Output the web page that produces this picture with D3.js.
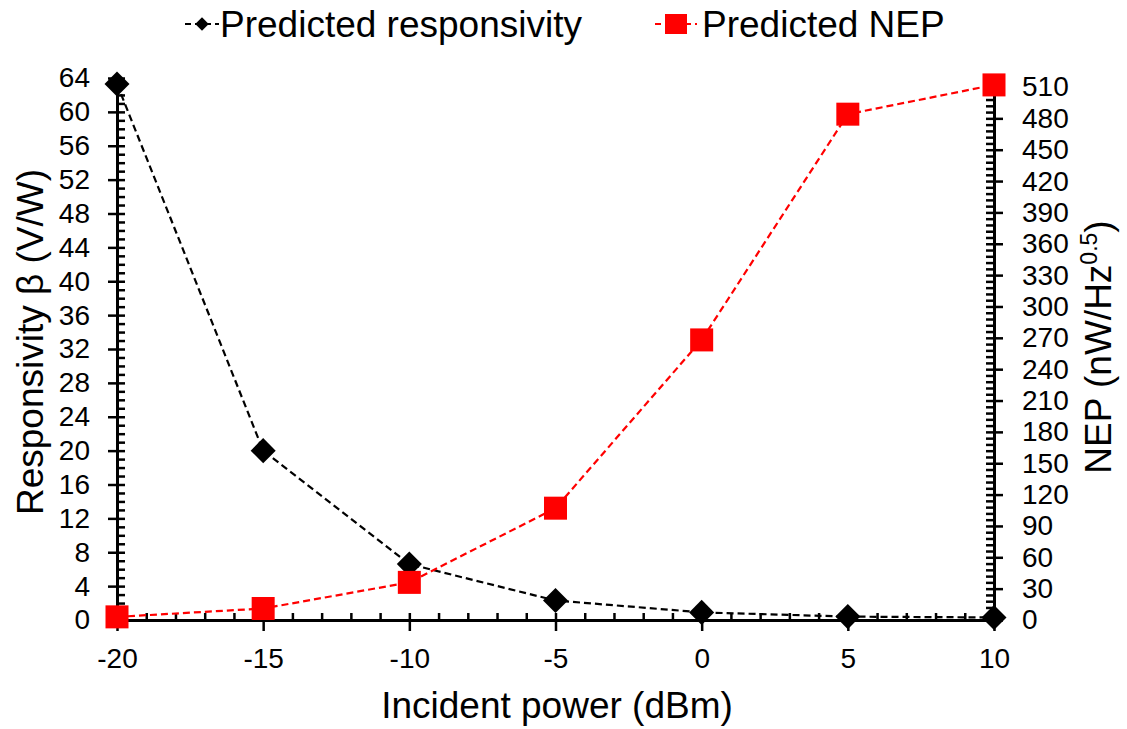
<!DOCTYPE html>
<html>
<head>
<meta charset="utf-8">
<script src="https://cdn.jsdelivr.net/npm/d3@7"></script>
<style>
  body { margin: 0; background: #fff; }
  text { font-family: "Liberation Sans", Arial, sans-serif; fill: #000; }
</style>
</head>
<body>
<script>
// data
const power = [-20, -15, -10, -5, 0, 5, 10]
const responsivity = [63.3, 20.0, 6.6, 2.3, 0.9, 0.4, 0.3]
const nep = [3, 11, 36, 107, 268, 484, 512]

const xTicks = [-20, -15, -10, -5, 0, 5, 10]
const leftTicks = d3.range(0, 65, 4)
const rightTicks = d3.range(0, 511, 30)

let width = 1127
let height = 729

const svg = d3.select('body').append('svg').attr('width', width).attr('height', height)

const x = d3.scaleLinear().domain([-20, 10]).range([117, 994])
const yL = d3.scaleLinear().domain([0, 64]).range([620, 78])
const yR = d3.scaleLinear().domain([0, 510]).range([620, 87])

const tickFont = '28px'
const plain = d => String(d)

// minor ticks (inside)
svg.append('g').attr('transform', `translate(${x(-20)},0)`)
  .call(d3.axisLeft(yL).tickValues(d3.range(0, 65, 1)).tickSize(-8).tickFormat(''))
  .call(g => g.select('.domain').remove())
  .call(g => g.selectAll('line').attr('stroke-width', 2.5))

svg.append('g').attr('transform', `translate(${x(10)},0)`)
  .call(d3.axisRight(yR).tickValues(d3.range(0, 511, 6)).tickSize(-8).tickFormat(''))
  .call(g => g.select('.domain').remove())
  .call(g => g.selectAll('line').attr('stroke-width', 2.5))

svg.append('g').attr('transform', `translate(0,${yL(0)})`)
  .call(d3.axisBottom(x).tickValues(d3.range(-20, 11, 1)).tickSize(-7).tickFormat(''))
  .call(g => g.select('.domain').remove())
  .call(g => g.selectAll('line').attr('stroke-width', 2.5))

// major axes
const leftAxis = svg.append('g').attr('transform', `translate(${x(-20)},0)`)
  .call(d3.axisLeft(yL).tickValues(leftTicks).tickFormat(plain).tickSize(9).tickSizeOuter(0).tickPadding(18))
leftAxis.select('.domain').attr('stroke-width', 3)
leftAxis.selectAll('line').attr('stroke-width', 2.5)
leftAxis.selectAll('text').style('font-size', tickFont)

const rightAxis = svg.append('g').attr('transform', `translate(${x(10)},0)`)
  .call(d3.axisRight(yR).tickValues(rightTicks).tickFormat(plain).tickSize(9).tickSizeOuter(0).tickPadding(19))
rightAxis.select('.domain').attr('stroke-width', 3)
rightAxis.selectAll('line').attr('stroke-width', 2.5)
rightAxis.selectAll('text').style('font-size', tickFont)

const bottomAxis = svg.append('g').attr('transform', `translate(0,${yL(0)})`)
  .call(d3.axisBottom(x).tickValues(xTicks).tickFormat(plain).tickSize(11).tickSizeOuter(0).tickPadding(17))
bottomAxis.select('.domain').attr('stroke-width', 3)
bottomAxis.selectAll('line').attr('stroke-width', 2.5)
bottomAxis.selectAll('text').style('font-size', tickFont)

// series
const lineL = d3.line().x((d, i) => x(power[i])).y(d => yL(d))
const lineR = d3.line().x((d, i) => x(power[i])).y(d => yR(d))

svg.append('path').datum(responsivity).attr('d', lineL)
  .attr('fill', 'none').attr('stroke', '#000').attr('stroke-width', 2.2).attr('stroke-dasharray', '7,4')

svg.selectAll('.diamond').data(responsivity).enter().append('path')
  .attr('class', 'diamond')
  .attr('d', d3.symbol(d3.symbolDiamond2, 400))
  .attr('transform', (d, i) => `translate(${x(power[i])},${yL(d)})`)
  .attr('fill', '#000')

svg.append('path').datum(nep).attr('d', lineR)
  .attr('fill', 'none').attr('stroke', '#ff0000').attr('stroke-width', 2.2).attr('stroke-dasharray', '7,4')

svg.selectAll('.sq').data(nep).enter().append('rect')
  .attr('class', 'sq')
  .attr('x', (d, i) => x(power[i]) - 11.5)
  .attr('y', d => yR(d) - 11.5)
  .attr('width', 23).attr('height', 23)
  .attr('fill', '#ff0000')

// axis titles
svg.append('text').attr('x', 557).attr('y', 718).attr('text-anchor', 'middle')
  .style('font-size', '37px').text('Incident power (dBm)')

svg.append('text').attr('transform', 'translate(43,342) rotate(-90)').attr('text-anchor', 'middle')
  .style('font-size', '37px').text('Responsivity β (V/W)')

const rt = svg.append('text').attr('transform', 'translate(1111,347) rotate(-90)').attr('text-anchor', 'middle')
  .style('font-size', '37px')
rt.append('tspan').text('NEP (nW/Hz')
rt.append('tspan').attr('dy', -14).style('font-size', '23px').text('0.5')
rt.append('tspan').attr('dy', 14).text(')')

// legend
const legend = svg.append('g')
legend.append('line').attr('x1', 185).attr('x2', 219).attr('y1', 24).attr('y2', 24)
  .attr('stroke', '#000').attr('stroke-width', 2.2).attr('stroke-dasharray', '6,4')
legend.append('path').attr('d', d3.symbol(d3.symbolDiamond2, 115))
  .attr('transform', 'translate(202,24)').attr('fill', '#000')
legend.append('text').attr('x', 220).attr('y', 37).style('font-size', '37px').text('Predicted responsivity')

legend.append('line').attr('x1', 655).attr('x2', 697).attr('y1', 24).attr('y2', 24)
  .attr('stroke', '#ff0000').attr('stroke-width', 2.2).attr('stroke-dasharray', '6,4')
legend.append('rect').attr('x', 665).attr('y', 14).attr('width', 22).attr('height', 20).attr('fill', '#ff0000')
legend.append('text').attr('x', 702).attr('y', 37).style('font-size', '37px').text('Predicted NEP')
</script>
</body>
</html>
